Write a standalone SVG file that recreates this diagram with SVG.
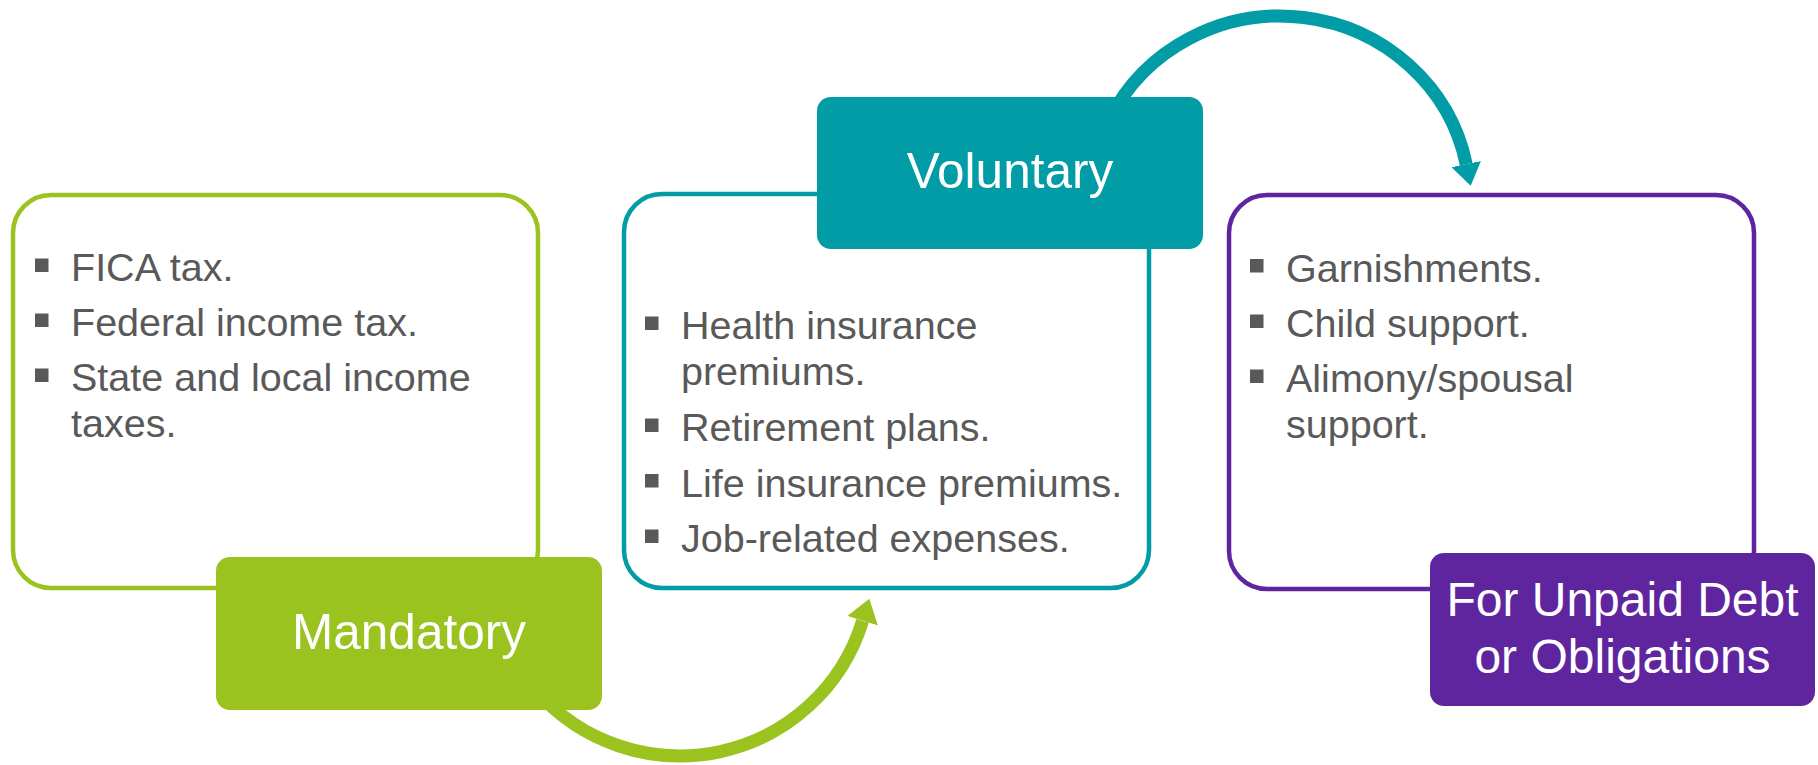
<svg xmlns="http://www.w3.org/2000/svg" width="1818" height="765" viewBox="0 0 1818 765">
  <style>
    .panel { fill: #ffffff; stroke-width: 4.5; }
    .tag { stroke: none; }
    .tag-text { font-family: "Liberation Sans", Arial, sans-serif; font-size: 48px; fill: #ffffff; text-anchor: middle; }
    .tag-text.big { font-size: 49.5px; }
    .item { font-family: "Liberation Sans", Arial, sans-serif; font-size: 39.5px; fill: #595959; }
    .dot { fill: #595959; }
    .green { stroke: #9bc31f; }
    .teal { stroke: #019ca6; }
    .purple { stroke: #5f259f; }
    .flow { fill: none; stroke-width: 13; stroke-linecap: butt; }
  </style>
  <defs>
    <marker id="head-green" markerUnits="userSpaceOnUse" markerWidth="23" markerHeight="32" viewBox="0 0 23 32" refX="0" refY="16" orient="auto">
      <path d="M0,0 L23,16 L0,32 Z" fill="#9bc31f"/>
    </marker>
    <marker id="head-teal" markerUnits="userSpaceOnUse" markerWidth="22" markerHeight="30" viewBox="0 0 22 30" refX="0" refY="15" orient="auto">
      <path d="M0,0 L22,15 L0,30 Z" fill="#019ca6"/>
    </marker>
  </defs>

  <!-- curved arrows between the three groups -->
  <g id="connectors">
    <path class="flow green" d="M535.6,690 A191,191 0 0 0 862.6,620.8" marker-end="url(#head-green)"/>
    <path class="flow teal" d="M1109.2,120 A190,185 0 0 1 1466.2,164.1" marker-end="url(#head-teal)"/>
  </g>

  <!-- Mandatory deductions -->
  <g id="mandatory">
    <rect class="panel green" x="13" y="195" width="525" height="393" rx="38" ry="38"/>
    <rect class="dot" x="35" y="258.5" width="13.5" height="13.5"/>
    <text class="item" x="71" y="281">FICA tax.</text>
    <rect class="dot" x="35" y="313.5" width="13.5" height="13.5"/>
    <text class="item" x="71" y="336">Federal income tax.</text>
    <rect class="dot" x="35" y="368.5" width="13.5" height="13.5"/>
    <text class="item" x="71" y="391">State and local income</text>
    <text class="item" x="71" y="437">taxes.</text>
    <rect class="tag" x="216" y="557" width="386" height="153" rx="14" ry="14" fill="#9bc31f"/>
    <text class="tag-text big" x="409" y="648.5">Mandatory</text>
  </g>

  <!-- Voluntary deductions -->
  <g id="voluntary">
    <rect class="panel teal" x="624" y="194" width="525" height="394" rx="38" ry="38"/>
    <rect class="dot" x="645" y="316.5" width="13.5" height="13.5"/>
    <text class="item" x="681" y="339">Health insurance</text>
    <text class="item" x="681" y="385">premiums.</text>
    <rect class="dot" x="645" y="418.5" width="13.5" height="13.5"/>
    <text class="item" x="681" y="441">Retirement plans.</text>
    <rect class="dot" x="645" y="474" width="13.5" height="13.5"/>
    <text class="item" x="681" y="496.5">Life insurance premiums.</text>
    <rect class="dot" x="645" y="529.5" width="13.5" height="13.5"/>
    <text class="item" x="681" y="552">Job-related expenses.</text>
    <rect class="tag" x="817" y="97" width="386" height="152" rx="14" ry="14" fill="#019ca6"/>
    <text class="tag-text big" x="1010" y="187.5">Voluntary</text>
  </g>

  <!-- Deductions for unpaid debt or obligations -->
  <g id="obligations">
    <rect class="panel purple" x="1229" y="195" width="525" height="394" rx="38" ry="38"/>
    <rect class="dot" x="1250" y="259" width="13.5" height="13.5"/>
    <text class="item" x="1286" y="281.5">Garnishments.</text>
    <rect class="dot" x="1250" y="314.5" width="13.5" height="13.5"/>
    <text class="item" x="1286" y="337">Child support.</text>
    <rect class="dot" x="1250" y="369.5" width="13.5" height="13.5"/>
    <text class="item" x="1286" y="392">Alimony/spousal</text>
    <text class="item" x="1286" y="438">support.</text>
    <rect class="tag" x="1430" y="553" width="385" height="153" rx="14" ry="14" fill="#5f259f"/>
    <text class="tag-text" x="1622.5" y="615.5">For Unpaid Debt</text>
    <text class="tag-text" x="1622.5" y="672.5">or Obligations</text>
  </g>
</svg>
